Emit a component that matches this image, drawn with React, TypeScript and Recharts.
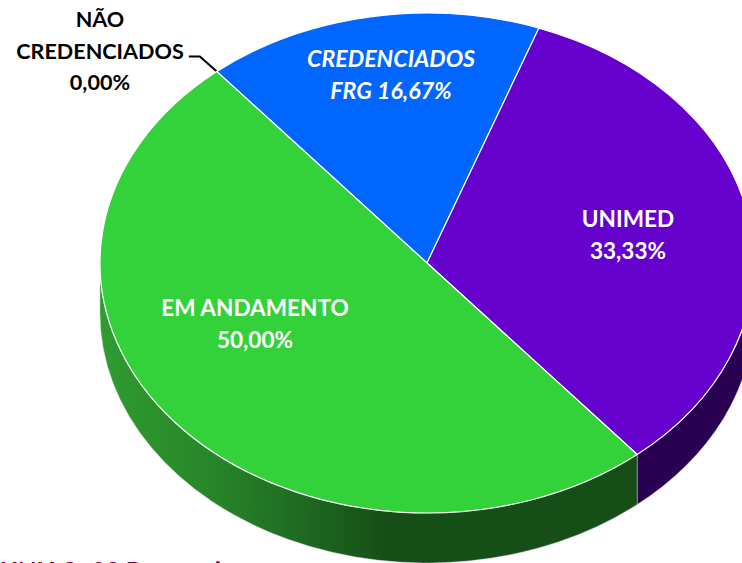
import { PieChart, Pie } from "recharts";

const names = ["NÃO CREDENCIADOS", "CREDENCIADOS FRG", "UNIMED", "EM ANDAMENTO"];
const shares = [0, 16.67, 33.33, 50];
const topColors = ["#000000", "#0066ff", "#6600cc", "#33d13a"];
const wallColors = ["#000000", "#003380", "#2a0052", "url(#wallGreen)"];
const labelLines = [
  ["NÃO", "CREDENCIADOS", "0,00%"],
  ["CREDENCIADOS", "FRG 16,67%"],
  ["UNIMED", "33,33%"],
  ["EM ANDAMENTO", "50,00%"],
];
const labelSpots = [
  { x: 100, y: 27, fill: "#000000", italic: false, size: 21.6 },
  { x: 391, y: 67, fill: "#ffffff", italic: true, size: 23.2 },
  { x: 628, y: 227, fill: "#ffffff", italic: false, size: 22.6 },
  { x: 255, y: 316, fill: "#ffffff", italic: false, size: 22.6 },
];

const chartData = names.map((name, i) => ({
  name,
  value: shares[i],
  top: topColors[i],
  wall: wallColors[i],
}));

const SQUASH = 250 / 327;
const DEPTH = 50;
const RAD = Math.PI / 180;

// the library hands over the angles, the slice is then flattened to look tilted
function TiltedSlice(props: any) {
  const { cx, cy, outerRadius: rx, startAngle, endAngle, payload } = props;
  const ry = rx * SQUASH;
  const px = (a: number) => cx + rx * Math.cos(a * RAD);
  const py = (a: number) => cy - ry * Math.sin(a * RAD);

  if (payload.value === 0) {
    const x = px(startAngle);
    const y = py(startAngle);
    return <polyline points={`${x},${y} ${x - 17},${y - 15} ${x - 28},${y - 15}`} fill="none" stroke="#000" strokeWidth={2} />;
  }

  const sweep = startAngle > endAngle ? 1 : 0;
  const large = Math.abs(endAngle - startAngle) > 180 ? 1 : 0;
  const slice = `M${cx},${cy} L${px(startAngle)},${py(startAngle)} A${rx},${ry} 0 ${large} ${sweep} ${px(endAngle)},${py(endAngle)} Z`;

  // wall only exists on the front half of the ellipse
  const lo = Math.min(startAngle, endAngle);
  const hi = Math.max(startAngle, endAngle);
  const pieces: string[] = [];
  for (let k = -2; k <= 1; k++) {
    const a = Math.max(lo, 180 + k * 360);
    const b = Math.min(hi, 360 + k * 360);
    if (b > a) {
      const bigArc = b - a > 180 ? 1 : 0;
      pieces.push(
        `M${px(b)},${py(b)} A${rx},${ry} 0 ${bigArc} 1 ${px(a)},${py(a)} L${px(a)},${py(a) + DEPTH} A${rx},${ry} 0 ${bigArc} 0 ${px(b)},${py(b) + DEPTH} Z`,
      );
    }
  }

  return (
    <g>
      {pieces.map((d, i) => (
        <path key={i} d={d} fill={payload.wall} stroke="#cfcfcf" strokeWidth={0.4} />
      ))}
      <path d={slice} fill={payload.top} stroke="#ffffff" strokeWidth={1.2} />
    </g>
  );
}

function SliceLabel(props: any) {
  const { index } = props;
  const spot = labelSpots[index];
  return (
    <g>
      {labelLines[index].map((line, i) => (
        <text
          key={line}
          x={spot.x}
          y={spot.y + i * 31.5}
          fill={spot.fill}
          textAnchor="middle"
          fontStyle={spot.italic ? "italic" : "normal"}
          style={{ fontFamily: "Lato", fontWeight: 700, fontSize: spot.size }}
        >
          {line}
        </text>
      ))}
    </g>
  );
}

export default function App() {
  return (
    <div style={{ position: "absolute", left: 0, top: 0, width: 742, height: 563, overflow: "hidden", background: "#fff" }}>
      <PieChart width={742} height={563} margin={{ top: 0, right: 0, bottom: 0, left: 0 }}>
        <defs>
          <linearGradient id="wallGreen" gradientUnits="userSpaceOnUse" x1="100" y1="0" x2="385" y2="0">
            <stop offset="0" stopColor="#2f9c30" />
            <stop offset="0.4" stopColor="#278529" />
            <stop offset="0.7" stopColor="#1f6a22" />
            <stop offset="1" stopColor="#154f17" />
          </linearGradient>
        </defs>
        <Pie
          data={chartData}
          dataKey="value"
          nameKey="name"
          cx={427}
          cy={263}
          outerRadius={327}
          startAngle={130}
          endAngle={-230}
          stroke="none"
          shape={TiltedSlice}
          label={SliceLabel}
          labelLine={false}
          isAnimationActive={false}
        />
        <text x={0} y={579.5} fill="#6b0a3c" style={{ fontFamily: "Lato", fontWeight: 700, fontSize: 24.2 }}>UNIAO: 02 Dezesseis</text>
      </PieChart>
    </div>
  );
}
